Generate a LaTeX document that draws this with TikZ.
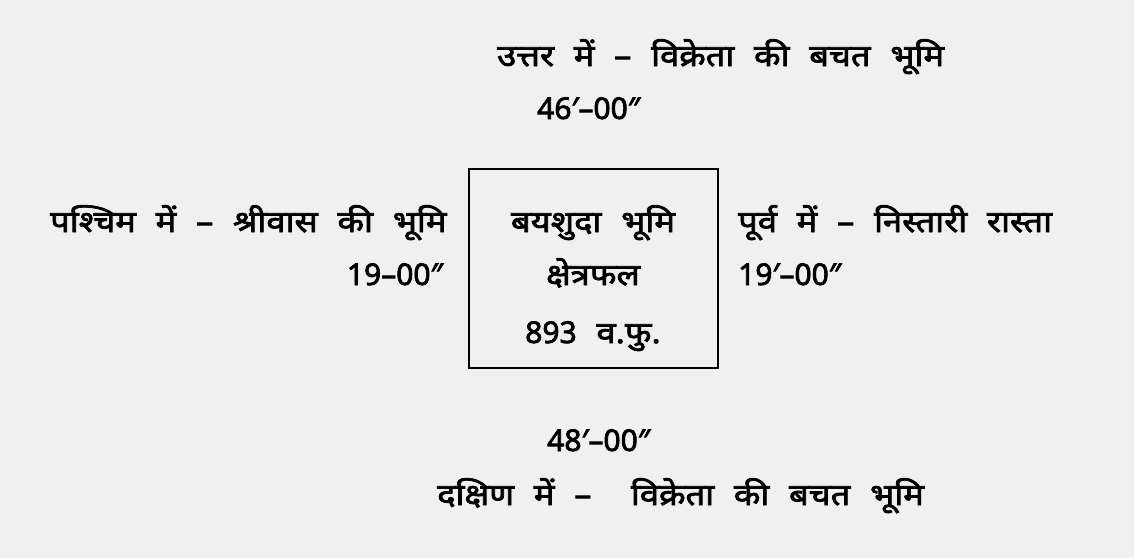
\documentclass[tikz,border=0pt]{standalone}
\usepackage{fontspec}
\newfontfamily\deva[Script=Devanagari,FakeBold=2.5,FakeStretch=1.15,WordSpace=2.2]{Noto Sans}
\newfontfamily\numf[FakeBold=2.5]{Noto Sans}
\definecolor{bgpaper}{HTML}{F0F0F0}
\begin{document}
\begin{tikzpicture}[x=1pt,y=-1pt,
  lbl/.style={inner sep=0pt,font=\deva\fontsize{30}{36}\selectfont},
  dim/.style={inner sep=0pt,font=\numf\fontsize{30}{36}\selectfont},
  plotbox/.style={draw=black,line width=1.8pt,inner sep=0pt}]
\fill[bgpaper] (0,0) rectangle (1134,558);
\useasboundingbox (0,0) rectangle (1134,558);
\node[plotbox,minimum width=249pt,minimum height=199pt] (box) at (593.5,268.5) {};
\node[lbl,anchor=base west] (north) at (497,66) {उत्तर में – विक्रेता की बचत भूमि};
\node[dim,anchor=base west] (nlen) at (537,119) {46′–00″};
\node[lbl,anchor=base west] (west) at (50,232) {पश्चिम में – श्रीवास की भूमि};
\node[dim,anchor=base east] (wlen) at (443,285) {19–00″};
\node[lbl,anchor=base] (b1) at (593,232) {बयशुदा भूमि};
\node[lbl,anchor=base] (b2) at (593,285) {क्षेत्रफल};
\node[lbl,anchor=base] (b3) at (593,343) {{\numf 893} व.फु.};
\node[lbl,anchor=base west] (east) at (738,232) {पूर्व में – निस्तारी रास्ता};
\node[dim,anchor=base west] (elen) at (738,285) {19′–00″};
\node[dim,anchor=base west] (slen) at (547,451) {48′–00″};
\node[lbl,anchor=base west] (south) at (437,505) {दक्षिण में –\ \ विक्रेता की बचत भूमि};
\end{tikzpicture}
\end{document}
